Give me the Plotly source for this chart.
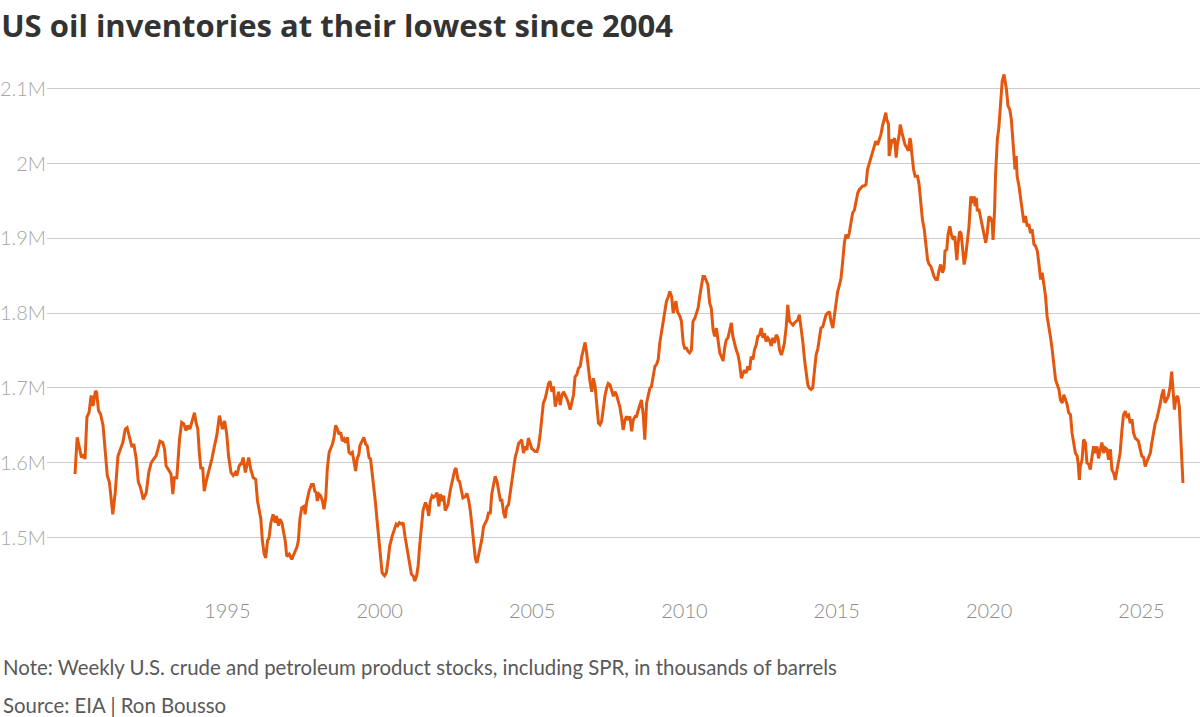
import pandas as pd
import plotly.graph_objects as go

# weekly US crude + product stocks incl. SPR (million x thousand barrels)
years = [
    1990.00, 1990.07, 1990.13, 1990.21, 1990.28, 1990.33, 1990.39, 1990.46, 1990.53, 1990.59,
    1990.67, 1990.71, 1990.77, 1990.84, 1990.92, 1990.99, 1991.06, 1991.13, 1991.24, 1991.32,
    1991.41, 1991.49, 1991.57, 1991.65, 1991.71, 1991.79, 1991.87, 1991.93, 1992.01, 1992.08,
    1992.15, 1992.24, 1992.34, 1992.42, 1992.50, 1992.58, 1992.66, 1992.72, 1992.79, 1992.88,
    1992.94, 1992.99, 1993.08, 1993.15, 1993.21, 1993.26, 1993.34, 1993.43, 1993.50, 1993.57,
    1993.64, 1993.70, 1993.77, 1993.84, 1993.92, 1993.97, 1994.03, 1994.08, 1994.13, 1994.19,
    1994.24, 1994.32, 1994.41, 1994.49, 1994.57, 1994.65, 1994.74, 1994.80, 1994.84, 1994.91,
    1994.98, 1995.04, 1995.12, 1995.19, 1995.26, 1995.31, 1995.39, 1995.47, 1995.52, 1995.59,
    1995.64, 1995.70, 1995.77, 1995.85, 1995.93, 1995.99, 1996.10, 1996.15, 1996.21, 1996.26,
    1996.32, 1996.37, 1996.43, 1996.50, 1996.57, 1996.61, 1996.68, 1996.72, 1996.79, 1996.84,
    1996.90, 1996.95, 1997.03, 1997.11, 1997.19, 1997.28, 1997.33, 1997.38, 1997.44, 1997.52,
    1997.55, 1997.60, 1997.68, 1997.76, 1997.82, 1997.87, 1997.92, 1997.95, 1998.01, 1998.06,
    1998.12, 1998.17, 1998.23, 1998.28, 1998.34, 1998.39, 1998.45, 1998.50, 1998.55, 1998.61,
    1998.66, 1998.72, 1998.77, 1998.83, 1998.88, 1998.94, 1998.99, 1999.04, 1999.10, 1999.15,
    1999.21, 1999.26, 1999.32, 1999.35, 1999.41, 1999.48, 1999.54, 1999.59, 1999.65, 1999.70,
    1999.75, 1999.81, 1999.86, 1999.92, 1999.97, 2000.03, 2000.08, 2000.16, 2000.22, 2000.28,
    2000.33, 2000.41, 2000.48, 2000.54, 2000.59, 2000.65, 2000.72, 2000.77, 2000.83, 2000.88,
    2000.93, 2000.99, 2001.04, 2001.10, 2001.15, 2001.21, 2001.26, 2001.31, 2001.37, 2001.42,
    2001.50, 2001.55, 2001.61, 2001.66, 2001.72, 2001.77, 2001.83, 2001.88, 2001.94, 2001.99,
    2002.05, 2002.10, 2002.15, 2002.21, 2002.24, 2002.32, 2002.40, 2002.46, 2002.50, 2002.57,
    2002.62, 2002.68, 2002.73, 2002.81, 2002.86, 2002.92, 2002.97, 2003.03, 2003.08, 2003.14,
    2003.19, 2003.25, 2003.30, 2003.35, 2003.41, 2003.46, 2003.52, 2003.57, 2003.63, 2003.68,
    2003.74, 2003.79, 2003.85, 2003.90, 2003.96, 2004.01, 2004.07, 2004.12, 2004.17, 2004.23,
    2004.28, 2004.34, 2004.39, 2004.45, 2004.50, 2004.56, 2004.61, 2004.66, 2004.72, 2004.77,
    2004.83, 2004.88, 2004.94, 2004.99, 2005.05, 2005.10, 2005.16, 2005.21, 2005.27, 2005.32,
    2005.37, 2005.43, 2005.48, 2005.54, 2005.59, 2005.65, 2005.70, 2005.76, 2005.81, 2005.87,
    2005.92, 2005.97, 2006.03, 2006.08, 2006.14, 2006.19, 2006.25, 2006.30, 2006.36, 2006.41,
    2006.47, 2006.52, 2006.58, 2006.63, 2006.69, 2006.74, 2006.79, 2006.85, 2006.90, 2006.96,
    2007.01, 2007.07, 2007.12, 2007.18, 2007.23, 2007.28, 2007.34, 2007.39, 2007.45, 2007.50,
    2007.56, 2007.61, 2007.67, 2007.72, 2007.77, 2007.83, 2007.88, 2007.94, 2007.99, 2008.05,
    2008.10, 2008.16, 2008.21, 2008.27, 2008.32, 2008.38, 2008.43, 2008.49, 2008.54, 2008.59,
    2008.65, 2008.70, 2008.76, 2008.81, 2008.87, 2008.92, 2008.98, 2009.03, 2009.08, 2009.14,
    2009.19, 2009.25, 2009.30, 2009.36, 2009.41, 2009.47, 2009.52, 2009.58, 2009.63, 2009.68,
    2009.72, 2009.77, 2009.85, 2009.90, 2009.96, 2010.01, 2010.07, 2010.12, 2010.17, 2010.23,
    2010.28, 2010.34, 2010.39, 2010.45, 2010.50, 2010.56, 2010.61, 2010.66, 2010.72, 2010.77,
    2010.83, 2010.88, 2010.94, 2010.99, 2011.05, 2011.10, 2011.16, 2011.21, 2011.27, 2011.32,
    2011.37, 2011.43, 2011.48, 2011.54, 2011.59, 2011.65, 2011.70, 2011.76, 2011.81, 2011.87,
    2011.92, 2011.97, 2012.03, 2012.08, 2012.14, 2012.19, 2012.25, 2012.30, 2012.36, 2012.41,
    2012.47, 2012.52, 2012.58, 2012.63, 2012.68, 2012.74, 2012.79, 2012.85, 2012.90, 2012.96,
    2013.01, 2013.07, 2013.12, 2013.18, 2013.23, 2013.28, 2013.34, 2013.39, 2013.45, 2013.50,
    2013.56, 2013.61, 2013.67, 2013.72, 2013.77, 2013.83, 2013.89, 2013.94, 2013.99, 2014.05,
    2014.10, 2014.16, 2014.21, 2014.27, 2014.32, 2014.38, 2014.43, 2014.48, 2014.54, 2014.59,
    2014.65, 2014.70, 2014.76, 2014.81, 2014.87, 2014.92, 2014.98, 2015.03, 2015.08, 2015.14,
    2015.19, 2015.25, 2015.30, 2015.36, 2015.41, 2015.47, 2015.52, 2015.58, 2015.63, 2015.69,
    2015.74, 2015.79, 2015.85, 2015.90, 2015.96, 2016.01, 2016.07, 2016.12, 2016.18, 2016.23,
    2016.28, 2016.34, 2016.39, 2016.45, 2016.50, 2016.56, 2016.61, 2016.64, 2016.70, 2016.72,
    2016.78, 2016.81, 2016.85, 2016.90, 2016.95, 2016.99, 2017.05, 2017.08, 2017.14, 2017.19,
    2017.24, 2017.30, 2017.35, 2017.40, 2017.43, 2017.46, 2017.52, 2017.57, 2017.65, 2017.70,
    2017.76, 2017.81, 2017.87, 2017.92, 2017.98, 2018.03, 2018.08, 2018.14, 2018.19, 2018.25,
    2018.30, 2018.36, 2018.41, 2018.47, 2018.52, 2018.55, 2018.61, 2018.65, 2018.71, 2018.76,
    2018.82, 2018.87, 2018.90, 2018.94, 2018.98, 2019.03, 2019.08, 2019.12, 2019.18, 2019.23,
    2019.29, 2019.34, 2019.40, 2019.45, 2019.51, 2019.54, 2019.58, 2019.61, 2019.67, 2019.72,
    2019.78, 2019.83, 2019.89, 2019.94, 2019.99, 2020.05, 2020.10, 2020.13, 2020.18, 2020.21,
    2020.27, 2020.32, 2020.38, 2020.43, 2020.49, 2020.57, 2020.62, 2020.68, 2020.73, 2020.77,
    2020.81, 2020.85, 2020.89, 2020.92, 2020.98, 2021.03, 2021.09, 2021.14, 2021.19, 2021.25,
    2021.30, 2021.36, 2021.41, 2021.47, 2021.52, 2021.58, 2021.63, 2021.69, 2021.74, 2021.79,
    2021.85, 2021.90, 2021.96, 2022.01, 2022.07, 2022.12, 2022.18, 2022.23, 2022.29, 2022.34,
    2022.40, 2022.45, 2022.50, 2022.56, 2022.61, 2022.67, 2022.72, 2022.78, 2022.83, 2022.89,
    2022.92, 2022.96, 2022.99, 2023.05, 2023.10, 2023.16, 2023.21, 2023.27, 2023.32, 2023.38,
    2023.43, 2023.49, 2023.54, 2023.59, 2023.65, 2023.70, 2023.76, 2023.81, 2023.87, 2023.92,
    2023.98, 2024.03, 2024.09, 2024.14, 2024.20, 2024.25, 2024.30, 2024.36, 2024.41, 2024.47,
    2024.52, 2024.58, 2024.63, 2024.69, 2024.74, 2024.80, 2024.85, 2024.90, 2024.96, 2025.01,
    2025.07, 2025.12, 2025.18, 2025.23, 2025.29, 2025.34, 2025.39, 2025.45, 2025.50, 2025.56,
    2025.61, 2025.67, 2025.72, 2025.77, 2025.83, 2025.88, 2025.94, 2025.99, 2026.05, 2026.08,
    2026.13, 2026.19, 2026.24, 2026.29, 2026.36,
]
stocks = [
    1.585, 1.634, 1.623, 1.607, 1.611, 1.605, 1.661, 1.667, 1.690, 1.676,
    1.696, 1.694, 1.670, 1.665, 1.650, 1.614, 1.583, 1.574, 1.531, 1.560,
    1.609, 1.618, 1.627, 1.645, 1.647, 1.634, 1.621, 1.625, 1.605, 1.574,
    1.567, 1.551, 1.560, 1.587, 1.600, 1.605, 1.609, 1.618, 1.629, 1.627,
    1.618, 1.596, 1.589, 1.585, 1.558, 1.580, 1.580, 1.632, 1.654, 1.652,
    1.643, 1.650, 1.645, 1.654, 1.667, 1.654, 1.645, 1.614, 1.592, 1.594,
    1.562, 1.578, 1.592, 1.605, 1.621, 1.636, 1.663, 1.652, 1.645, 1.656,
    1.638, 1.609, 1.587, 1.583, 1.587, 1.583, 1.596, 1.600, 1.607, 1.587,
    1.596, 1.607, 1.591, 1.580, 1.578, 1.549, 1.525, 1.496, 1.478, 1.473,
    1.496, 1.500, 1.520, 1.531, 1.520, 1.529, 1.516, 1.525, 1.520, 1.511,
    1.496, 1.475, 1.478, 1.471, 1.478, 1.487, 1.496, 1.525, 1.540, 1.542,
    1.531, 1.547, 1.562, 1.571, 1.571, 1.562, 1.560, 1.549, 1.558, 1.556,
    1.549, 1.538, 1.554, 1.592, 1.614, 1.618, 1.625, 1.634, 1.650, 1.645,
    1.638, 1.641, 1.629, 1.632, 1.627, 1.634, 1.614, 1.612, 1.614, 1.603,
    1.589, 1.605, 1.612, 1.623, 1.629, 1.634, 1.625, 1.623, 1.607, 1.605,
    1.587, 1.569, 1.547, 1.520, 1.496, 1.471, 1.453, 1.449, 1.453, 1.471,
    1.489, 1.502, 1.511, 1.518, 1.516, 1.520, 1.518, 1.520, 1.502, 1.491,
    1.480, 1.462, 1.451, 1.449, 1.442, 1.449, 1.462, 1.489, 1.520, 1.536,
    1.547, 1.542, 1.529, 1.549, 1.556, 1.554, 1.556, 1.560, 1.542, 1.558,
    1.549, 1.556, 1.536, 1.542, 1.544, 1.564, 1.582, 1.590, 1.593, 1.577,
    1.575, 1.564, 1.553, 1.555, 1.559, 1.550, 1.537, 1.515, 1.490, 1.472,
    1.466, 1.477, 1.488, 1.497, 1.515, 1.519, 1.524, 1.533, 1.533, 1.559,
    1.575, 1.582, 1.575, 1.564, 1.550, 1.550, 1.533, 1.526, 1.541, 1.544,
    1.559, 1.575, 1.595, 1.608, 1.615, 1.626, 1.628, 1.631, 1.613, 1.622,
    1.617, 1.633, 1.626, 1.619, 1.617, 1.615, 1.615, 1.622, 1.640, 1.666,
    1.680, 1.686, 1.697, 1.706, 1.709, 1.695, 1.702, 1.675, 1.684, 1.695,
    1.677, 1.689, 1.695, 1.691, 1.686, 1.680, 1.671, 1.680, 1.691, 1.715,
    1.718, 1.726, 1.729, 1.742, 1.751, 1.761, 1.747, 1.724, 1.709, 1.695,
    1.713, 1.702, 1.680, 1.653, 1.651, 1.655, 1.673, 1.689, 1.700, 1.706,
    1.704, 1.697, 1.689, 1.695, 1.691, 1.682, 1.675, 1.660, 1.644, 1.657,
    1.662, 1.657, 1.662, 1.642, 1.657, 1.662, 1.662, 1.671, 1.677, 1.684,
    1.664, 1.631, 1.680, 1.691, 1.700, 1.702, 1.718, 1.729, 1.731, 1.738,
    1.760, 1.776, 1.789, 1.804, 1.816, 1.822, 1.829, 1.822, 1.800, 1.811,
    1.816, 1.802, 1.796, 1.789, 1.760, 1.753, 1.753, 1.749, 1.747, 1.751,
    1.789, 1.793, 1.800, 1.807, 1.822, 1.838, 1.849, 1.849, 1.844, 1.838,
    1.813, 1.807, 1.778, 1.769, 1.780, 1.767, 1.747, 1.742, 1.736, 1.753,
    1.764, 1.767, 1.776, 1.787, 1.769, 1.758, 1.751, 1.744, 1.733, 1.713,
    1.718, 1.724, 1.720, 1.729, 1.724, 1.742, 1.738, 1.751, 1.758, 1.769,
    1.771, 1.780, 1.767, 1.773, 1.762, 1.767, 1.764, 1.756, 1.767, 1.760,
    1.771, 1.767, 1.751, 1.744, 1.751, 1.760, 1.782, 1.811, 1.789, 1.787,
    1.784, 1.787, 1.789, 1.791, 1.798, 1.782, 1.760, 1.738, 1.720, 1.704,
    1.700, 1.698, 1.700, 1.724, 1.744, 1.753, 1.769, 1.780, 1.782, 1.789,
    1.798, 1.800, 1.802, 1.789, 1.780, 1.796, 1.813, 1.829, 1.836, 1.847,
    1.867, 1.894, 1.905, 1.900, 1.907, 1.921, 1.934, 1.938, 1.950, 1.961,
    1.965, 1.967, 1.970, 1.970, 1.972, 1.992, 2.001, 2.005, 2.017, 2.023,
    2.030, 2.025, 2.032, 2.039, 2.050, 2.059, 2.068, 2.059, 2.052, 2.010,
    2.025, 2.032, 2.030, 2.034, 2.008, 2.025, 2.039, 2.052, 2.041, 2.032,
    2.025, 2.021, 2.017, 2.034, 2.028, 2.014, 1.992, 1.983, 1.983, 1.972,
    1.947, 1.925, 1.912, 1.889, 1.871, 1.865, 1.863, 1.856, 1.849, 1.845,
    1.845, 1.858, 1.865, 1.854, 1.860, 1.883, 1.885, 1.905, 1.916, 1.905,
    1.898, 1.903, 1.892, 1.871, 1.892, 1.909, 1.907, 1.889, 1.865, 1.876,
    1.898, 1.916, 1.956, 1.947, 1.956, 1.943, 1.954, 1.938, 1.938, 1.929,
    1.916, 1.907, 1.894, 1.907, 1.929, 1.927, 1.921, 1.898, 1.938, 1.983,
    2.032, 2.048, 2.086, 2.110, 2.119, 2.099, 2.077, 2.072, 2.059, 2.037,
    2.014, 1.992, 2.010, 1.983, 1.970, 1.956, 1.934, 1.921, 1.930, 1.916,
    1.919, 1.907, 1.912, 1.892, 1.890, 1.883, 1.867, 1.845, 1.854, 1.841,
    1.823, 1.796, 1.783, 1.769, 1.751, 1.729, 1.711, 1.705, 1.698, 1.684,
    1.680, 1.691, 1.684, 1.678, 1.667, 1.664, 1.640, 1.627, 1.613, 1.609,
    1.600, 1.577, 1.595, 1.604, 1.631, 1.627, 1.600, 1.598, 1.591, 1.609,
    1.622, 1.613, 1.622, 1.606, 1.618, 1.627, 1.613, 1.620, 1.618, 1.604,
    1.618, 1.591, 1.586, 1.577, 1.591, 1.602, 1.613, 1.644, 1.664, 1.669,
    1.662, 1.664, 1.653, 1.658, 1.640, 1.633, 1.631, 1.629, 1.618, 1.609,
    1.607, 1.595, 1.602, 1.607, 1.613, 1.627, 1.640, 1.653, 1.658, 1.667,
    1.678, 1.691, 1.698, 1.680, 1.684, 1.689, 1.702, 1.722, 1.689, 1.671,
    1.687, 1.689, 1.676, 1.631, 1.573,
]

y_ticks = [1.5, 1.6, 1.7, 1.8, 1.9, 2.0, 2.1]
y_labels = ["1.5M", "1.6M", "1.7M", "1.8M", "1.9M", "2M", "2.1M"]
x_ticks = ["1995", "2000", "2005", "2010", "2015", "2020", "2025"]


def to_date(y):
    yr = int(y)
    return pd.Timestamp(yr, 1, 1) + pd.Timedelta(days=(y - yr) * 365.25)


dates = [to_date(y) for y in years]

fig = go.Figure(
    go.Scatter(
        x=dates,
        y=stocks,
        mode="lines",
        line=dict(color="#e4570f", width=3),
        hoverinfo="skip",
    )
)

fig.update_layout(
    width=1200,
    height=717,
    margin=dict(l=44, r=0, t=70, b=127),
    paper_bgcolor="white",
    plot_bgcolor="white",
    showlegend=False,
    font=dict(family="Lato", color="#999999"),
    title=dict(
        text="<b>US oil inventories at their lowest since 2004</b>",
        x=0.001,
        xref="container",
        xanchor="left",
        y=0.963,
        yref="container",
        yanchor="middle",
        font=dict(family="Open Sans", size=31, color="#333333"),
    ),
    xaxis=dict(
        type="date",
        range=[to_date(1989.08), to_date(2026.92)],
        tickvals=[x + "-01-01" for x in x_ticks],
        ticktext=x_ticks,
        showgrid=False,
        showline=False,
        zeroline=False,
        ticks="",
        ticklabelstandoff=7,
        tickfont=dict(size=20, color="#8c8c8c", weight=300),
    ),
    yaxis=dict(
        range=[1.43, 2.125],
        tickvals=y_ticks,
        ticktext=y_labels,
        showgrid=True,
        gridcolor="#cccccc",
        gridwidth=1,
        zeroline=False,
        showline=False,
        ticks="",
        tickfont=dict(size=20, color="#a6a6a6", weight=300),
    ),
)

notes = [
    ("Note: Weekly U.S. crude and petroleum product stocks, including SPR, in thousands of barrels", 667),
    ("Source: EIA | Ron Bousso", 705),
]
for text, ypix in notes:
    fig.add_annotation(
        text=text,
        xref="paper",
        yref="paper",
        x=(-2 - 44) / 1156,
        y=(590 - ypix) / 520,
        xanchor="left",
        yanchor="middle",
        showarrow=False,
        font=dict(family="Lato", size=20.4, color="#595959"),
    )

# page body has a default 8px margin; drop it so the figure sits at the window corner
fig.write_html(
    "out.html",
    config={"displayModeBar": False},
    post_script="document.body.style.margin = '0';",
)
